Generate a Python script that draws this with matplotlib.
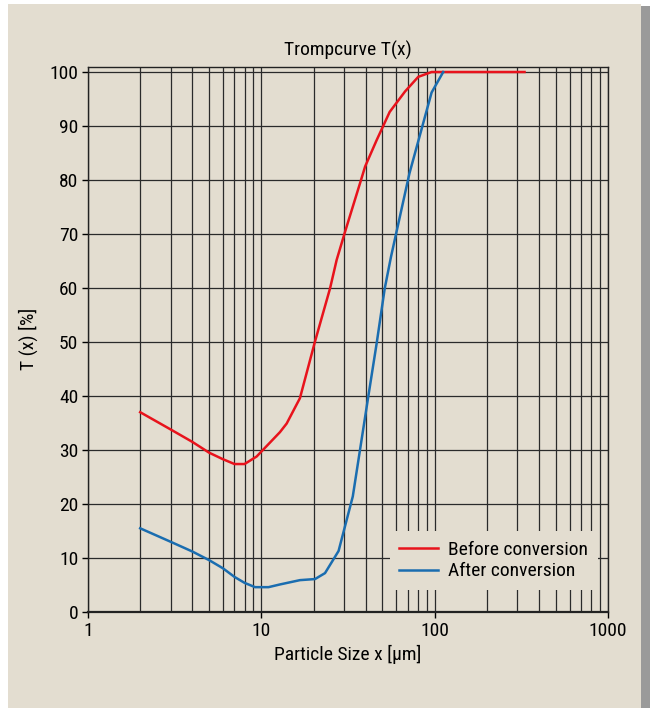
import matplotlib.pyplot as plt
import matplotlib.ticker as mticker
from matplotlib.patches import Rectangle
from matplotlib import font_manager

# Tromp curve data
x_before = [2, 3, 4, 5, 6, 7, 8, 9.4, 12.8, 14, 16.7, 20.4, 24.9, 27.2, 30.4, 37.1, 39.7, 46.3, 55, 67.5, 80.4, 96, 330]
t_before = [37, 33.8, 31.5, 29.5, 28.3, 27.4, 27.4, 28.8, 33.3, 34.9, 39.6, 50.1, 59.9, 65.2, 70.4, 79.4, 82.5, 87.4, 92.6, 96.4, 99.1, 100, 100]

x_after = [2, 3, 4, 5, 6, 7, 8, 9.2, 11, 12.8, 16.7, 20.4, 23.3, 27.9, 33.7, 41.4, 46.3, 51.5, 56, 71.5, 96, 112]
t_after = [15.5, 13, 11.2, 9.6, 8.1, 6.5, 5.4, 4.6, 4.6, 5.1, 5.9, 6.1, 7.2, 11.3, 21.4, 39.9, 49.8, 59.9, 65.8, 81.2, 96.2, 100]

bg = '#e3ddd0'
names = {f.name for f in font_manager.fontManager.ttflist}
fams = [n for n in ['Roboto Condensed', 'Liberation Sans Narrow', 'Open Sans Condensed', 'Roboto'] if n in names]
plt.rcParams['font.family'] = fams + ['DejaVu Sans']

fig = plt.figure(figsize=(6.5, 7.08), dpi=100, facecolor='white')
# beige panel with grey shadow on the right
fig.patches.append(Rectangle((640/650, 0), 10/650, 1 - 6/708, transform=fig.transFigure,
                             facecolor='#9a9a9a', edgecolor='none', zorder=-2))
fig.patches.append(Rectangle((8/650, 0), 633/650, 1 - 4/708, transform=fig.transFigure,
                             facecolor=bg, edgecolor='none', zorder=-1))

ax = fig.add_axes([88/650, 1 - 612/708, 520/650, (612 - 66.6)/708])
ax.set_facecolor(bg)
ax.set_xscale('log')
ax.set_xlim(1, 1000)
ax.set_ylim(0, 101)

ax.plot(x_before, t_before, color='#e8131c', lw=1.8, label='Before conversion', zorder=3)
ax.plot(x_after, t_after, color='#1a6db0', lw=1.8, label='After conversion', zorder=3)

ax.xaxis.set_major_locator(mticker.FixedLocator([1, 10, 100, 1000]))
ax.xaxis.set_major_formatter(mticker.FixedFormatter(['1', '10', '100', '1000']))
ax.xaxis.set_minor_locator(mticker.LogLocator(base=10, subs=range(2, 10)))
ax.xaxis.set_minor_formatter(mticker.NullFormatter())
ax.set_yticks(range(0, 101, 10))

ax.grid(True, which='both', axis='x', color='#2a2a2a', lw=0.9)
ax.grid(True, which='major', axis='y', color='#2a2a2a', lw=0.9)
ax.set_axisbelow(True)
ax.tick_params(which='major', direction='out', length=4, width=1, labelsize=14, pad=3)
ax.tick_params(which='minor', length=0)
for s in ax.spines.values():
    s.set_color('#222222')
    s.set_linewidth(1)
ax.spines['bottom'].set_linewidth(1.6)

ax.set_title('Trompcurve T(x)', fontsize=14, pad=8)
ax.set_xlabel('Particle Size x [µm]', fontsize=14, labelpad=4)
ax.set_ylabel('T (x) [%]', fontsize=14, labelpad=8)

leg = ax.legend(loc='lower right', bbox_to_anchor=(0.98, 0.04), frameon=True,
                fontsize=14, handlelength=2.0, handletextpad=0.5, borderpad=0.5,
                labelspacing=0.2, borderaxespad=0)
leg.get_frame().set_facecolor(bg)
leg.get_frame().set_edgecolor('none')
leg.get_frame().set_alpha(1)

fig.savefig('out.png', dpi=100, facecolor=fig.get_facecolor())
